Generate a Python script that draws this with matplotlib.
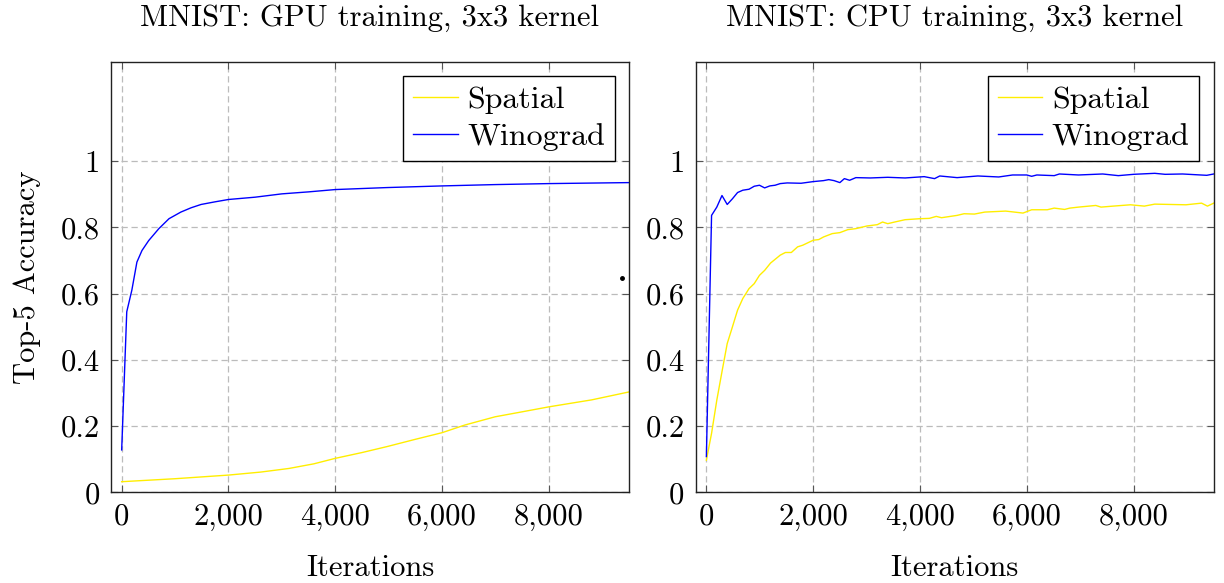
import matplotlib
matplotlib.use("Agg")
import matplotlib.pyplot as plt
from matplotlib.ticker import FuncFormatter

plt.rcParams['font.family'] = ['cmr10', 'DejaVu Serif']
plt.rcParams['axes.formatter.use_mathtext'] = True
plt.rcParams['mathtext.fontset'] = 'cm'

# GPU training (left)
gpu_wino_x = [0, 95, 190, 285, 380, 506, 696, 886, 1108, 1300, 1487, 1750, 2000,
              2500, 3000, 3500, 4000, 4968, 6000, 6994, 8000, 9500]
gpu_wino_y = [0.128, 0.545, 0.61, 0.695, 0.73, 0.76, 0.796, 0.826, 0.846, 0.859,
              0.869, 0.877, 0.884, 0.891, 0.901, 0.907, 0.914, 0.92, 0.925, 0.929,
              0.932, 0.935]
gpu_spat_x = [0, 1000, 2000, 2600, 3133, 3600, 4000, 4500, 4968, 5500, 6000,
              6424, 6994, 7500, 8000, 8800, 9500]
gpu_spat_y = [0.032, 0.041, 0.052, 0.061, 0.072, 0.086, 0.1025, 0.12, 0.138,
              0.16, 0.18, 0.203, 0.228, 0.243, 0.258, 0.279, 0.303]

# CPU training (right)
cpu_wino_x = [0, 97, 195, 292, 390, 487, 584, 682, 799, 896, 994, 1091, 1188,
              1286, 1383, 1513, 1773, 2000, 2195, 2292, 2390, 2500, 2584, 2682,
              2799, 3071, 3396, 3721, 4078, 4273, 4370, 4695, 5084, 5474, 5734,
              6000, 6091, 6188, 6513, 6610, 6968, 7422, 7714, 8000, 8396, 8591,
              8916, 9370, 9500]
cpu_wino_y = [0.108, 0.836, 0.861, 0.896, 0.869, 0.886, 0.905, 0.912, 0.915,
              0.924, 0.927, 0.919, 0.925, 0.927, 0.932, 0.934, 0.933, 0.938,
              0.941, 0.944, 0.941, 0.935, 0.947, 0.942, 0.950, 0.949, 0.951,
              0.949, 0.953, 0.947, 0.955, 0.950, 0.955, 0.952, 0.958, 0.958,
              0.954, 0.958, 0.956, 0.961, 0.958, 0.961, 0.956, 0.960, 0.963,
              0.960, 0.961, 0.957, 0.961]
cpu_spat_x = [0, 97, 195, 292, 390, 487, 584, 682, 799, 896, 994, 1091, 1201,
              1383, 1480, 1591, 1708, 1805, 2000, 2104, 2195, 2357, 2500, 2649,
              2799, 3006, 3201, 3299, 3396, 3526, 3721, 4000, 4175, 4305, 4403,
              4695, 4825, 5019, 5214, 5604, 5929, 6091, 6383, 6513, 6708, 6805,
              6968, 7292, 7390, 7617, 7942, 8201, 8396, 8981, 9273, 9383, 9500]
cpu_spat_y = [0.097, 0.178, 0.278, 0.364, 0.449, 0.499, 0.550, 0.585, 0.615,
              0.630, 0.655, 0.670, 0.692, 0.716, 0.724, 0.724, 0.741, 0.746,
              0.761, 0.763, 0.771, 0.781, 0.784, 0.793, 0.796, 0.804, 0.808,
              0.816, 0.811, 0.816, 0.823, 0.826, 0.827, 0.833, 0.829, 0.836,
              0.841, 0.840, 0.846, 0.849, 0.843, 0.853, 0.853, 0.858, 0.854,
              0.858, 0.861, 0.866, 0.861, 0.864, 0.868, 0.864, 0.870, 0.868,
              0.873, 0.864, 0.873]

titles = ["MNIST: GPU training, 3x3 kernel", "MNIST: CPU training, 3x3 kernel"]
xticks = [0, 2000, 4000, 6000, 8000]
yticks = [0, 0.2, 0.4, 0.6, 0.8, 1]
FS = 22

fig = plt.figure(figsize=(12.24, 5.83), dpi=100)
ax1 = fig.add_axes([111 / 1224, 1 - 492.3 / 583, 518 / 1224, 430.6 / 583])
ax2 = fig.add_axes([695.7 / 1224, 1 - 492.3 / 583, 518 / 1224, 430.6 / 583])

series = [(ax1, gpu_spat_x, gpu_spat_y, gpu_wino_x, gpu_wino_y),
          (ax2, cpu_spat_x, cpu_spat_y, cpu_wino_x, cpu_wino_y)]

for (ax, sx, sy, wx, wy), title in zip(series, titles):
    ax.plot(sx, sy, color='#ffee00', lw=1.0, label='Spatial')
    ax.plot(wx, wy, color='#0000ff', lw=1.0, label='Winograd')
    ax.set_xlim(-200, 9500)
    ax.set_ylim(0, 1.3)
    ax.set_xticks(xticks)
    ax.set_yticks(yticks)
    ax.xaxis.set_major_formatter(FuncFormatter(lambda v, p: f"{int(v):,}"))
    ax.yaxis.set_major_formatter(FuncFormatter(lambda v, p: f"{v:g}"))
    ax.tick_params(direction='in', length=5, width=0.8, color='#555555',
                   top=True, right=True, labelsize=FS, pad=8)
    ax.grid(True, color='#bbbbbb', lw=0.9, linestyle=(0, (5, 3)))
    for s in ax.spines.values():
        s.set_linewidth(1.0)
        s.set_color('#222222')
    ax.set_title(title, fontsize=FS, pad=26)
    ax.set_xlabel("Iterations", fontsize=FS, labelpad=17)
    leg = ax.legend(loc='upper right', fontsize=23, frameon=True, fancybox=False,
                    edgecolor='black', framealpha=1, handlelength=1.4,
                    handletextpad=0.3, borderpad=0.3, labelspacing=0.28,
                    borderaxespad=0.45)
    leg.get_frame().set_linewidth(1.0)

ax1.set_ylabel("Top-5 Accuracy", fontsize=FS, labelpad=14)
# stray dot in the GPU panel
ax1.plot([9360], [0.648], marker='o', ms=2.5, color='black', ls='none')

fig.savefig("out.png", dpi=100)
